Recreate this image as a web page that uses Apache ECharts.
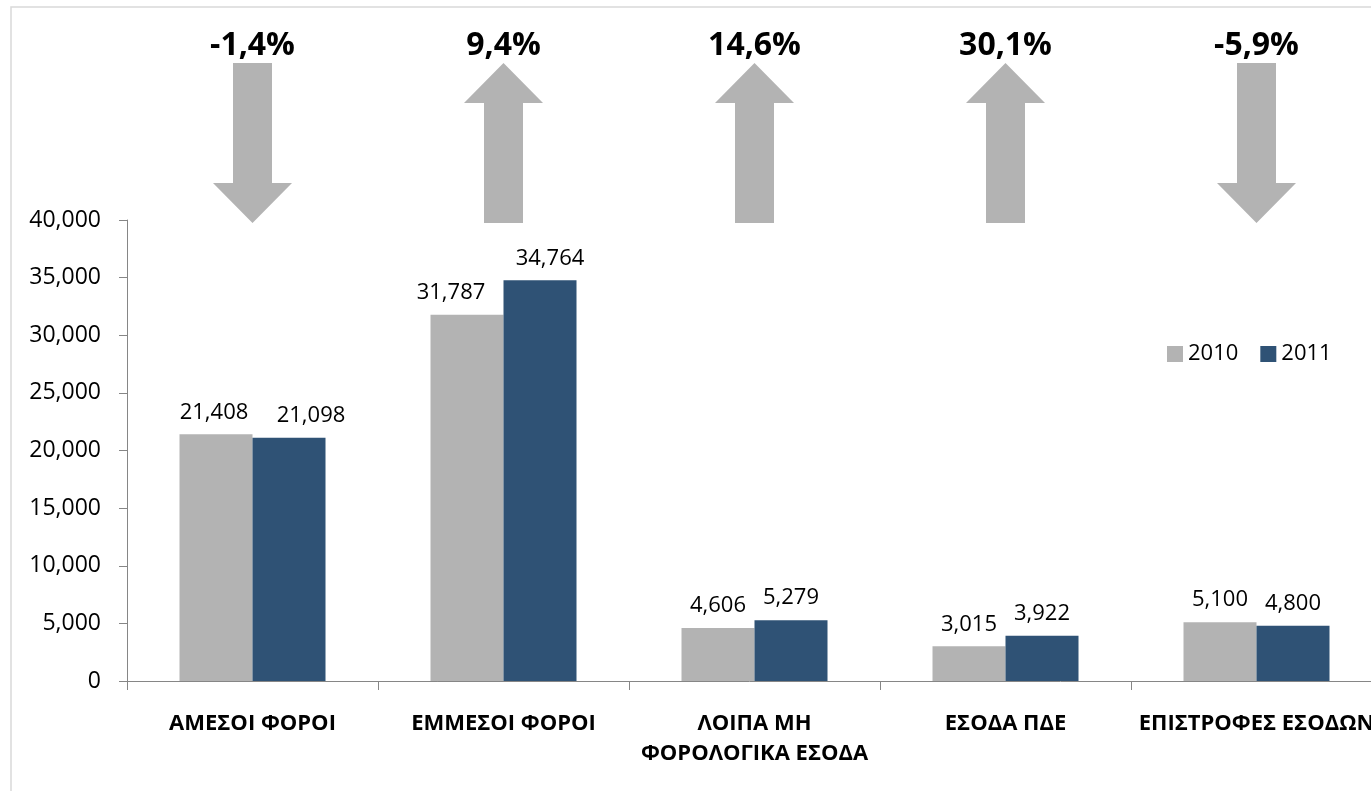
<!DOCTYPE html>
<html><head><meta charset="utf-8">
<script src="https://cdn.jsdelivr.net/npm/echarts@6/dist/echarts.min.js"></script>
<style>html,body{margin:0;padding:0;background:#fff}#c{width:1371px;height:791px}</style>
</head><body><div id="c"></div>
<script>
const categories = ['ΑΜΕΣΟΙ ΦΟΡΟΙ', 'ΕΜΜΕΣΟΙ ΦΟΡΟΙ', 'ΛΟΙΠΑ ΜΗ\nΦΟΡΟΛΟΓΙΚΑ ΕΣΟΔΑ', 'ΕΣΟΔΑ ΠΔΕ', 'ΕΠΙΣΤΡΟΦΕΣ ΕΣΟΔΩΝ'];
const values2010 = [21408, 31787, 4606, 3015, 5100];
const values2011 = [21098, 34764, 5279, 3922, 4800];
const changeLabels = ['-1,4%', '9,4%', '14,6%', '30,1%', '-5,9%'];
const yTicks = [0, 5000, 10000, 15000, 20000, 25000, 30000, 35000, 40000];

const FONT = '"Open Sans", "Noto Sans", sans-serif';
const fmt = v => String(v).replace(/\B(?=(\d{3})+(?!\d))/g, ',');
const downPath = 'path://M20,0 L59,0 L59,120 L79,120 L39.5,160 L0,120 L20,120 Z';
const upPath = 'path://M39.5,0 L79,40 L59,40 L59,160 L20,160 L20,40 L0,40 Z';

// label nudges (style only), to mimic the original's overlap avoidance
const offs2010 = [[-2, 0], [-16, 0], [0, 0], [0, 0], [0, 0]];
const offs2011 = [[22, 0], [10, 0], [0, 0], [0, 0], [0, 0]];

const arrowData = categories.map((c, i) => ({
  value: [i, 0.5],
  symbol: values2011[i] >= values2010[i] ? upPath : downPath,
  label: { formatter: changeLabels[i] }
}));
const d2010 = values2010.map((v, i) => ({ value: v, label: { offset: offs2010[i] } }));
const d2011 = values2011.map((v, i) => ({ value: v, label: { offset: offs2011[i] } }));

const chart = echarts.init(document.getElementById('c'), null, {renderer: 'canvas'});
chart.setOption({
  backgroundColor: '#fff',
  animation: false,
  textStyle: { fontFamily: FONT },
  graphic: [{
    type: 'rect', shape: { x: 11, y: 7, width: 1420, height: 840 },
    style: { fill: 'none', stroke: '#d9d9d9', lineWidth: 1.5 }, silent: true, z: -1
  }],
  legend: {
    data: ['2010', '2011'], left: 1162, top: 338, icon: 'rect',
    itemWidth: 16, itemHeight: 16, itemGap: 22,
    textStyle: { fontSize: 22, color: '#000', fontFamily: FONT }
  },
  grid: [
    { left: 127, right: -11, top: 220, height: 461, containLabel: false, outerBoundsMode: 'none' },
    { left: 127, right: -11, top: 63, height: 160, containLabel: false, outerBoundsMode: 'none' }
  ],
  xAxis: [
    {
      type: 'category', data: categories, gridIndex: 0,
      axisLine: { show: true, lineStyle: { color: '#868686', width: 1 } },
      axisTick: { show: true, length: 9, lineStyle: { color: '#868686' } },
      axisLabel: { color: '#000', fontSize: 22, fontWeight: 'bold', margin: 28, lineHeight: 30, interval: 0, fontFamily: FONT, hideOverlap: false }
    },
    { type: 'category', data: categories, gridIndex: 1, show: false }
  ],
  yAxis: [
    {
      type: 'value', gridIndex: 0, min: 0, max: 40000, interval: 5000,
      axisLine: { show: true, lineStyle: { color: '#868686', width: 1 } },
      axisTick: { show: true, length: 8, lineStyle: { color: '#868686' } },
      splitLine: { show: false },
      axisLabel: { color: '#000', fontSize: 23, margin: 26, formatter: v => fmt(v), fontFamily: FONT }
    },
    { type: 'value', gridIndex: 1, min: 0, max: 1, show: false }
  ],
  series: [
    {
      name: '2010', type: 'bar', data: d2010, barWidth: 73, barGap: '0%',
      itemStyle: { color: '#b3b3b3' },
      label: { show: true, position: 'top', distance: 11, color: '#000', fontSize: 22, formatter: p => fmt(p.value), fontFamily: FONT }
    },
    {
      name: '2011', type: 'bar', data: d2011, barWidth: 73, barGap: '0%',
      itemStyle: { color: '#2f5275' },
      label: { show: true, position: 'top', distance: 11, color: '#000', fontSize: 22, formatter: p => fmt(p.value), fontFamily: FONT }
    },
    {
      name: 'arrows', type: 'scatter', xAxisIndex: 1, yAxisIndex: 1,
      data: arrowData, symbolSize: [79, 160],
      itemStyle: { color: '#b3b3b3', opacity: 1 },
      label: { show: true, position: 'top', distance: 1, color: '#000', fontSize: 32, fontWeight: 'bold', fontFamily: FONT },
      silent: true
    }
  ]
});
</script></body></html>
